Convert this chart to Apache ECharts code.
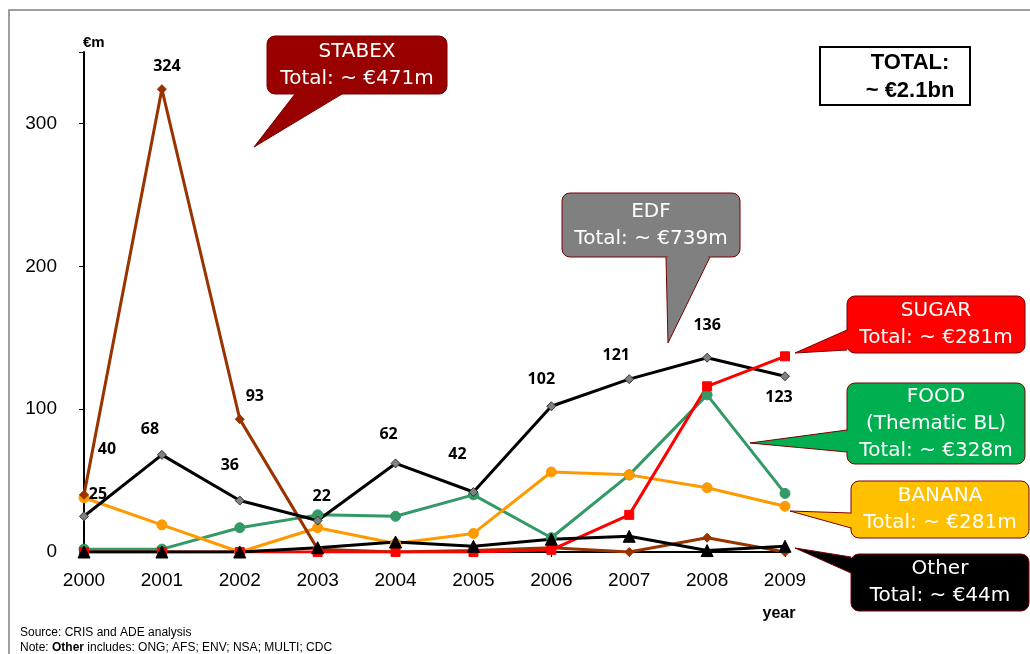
<!DOCTYPE html>
<html>
<head>
<meta charset="utf-8">
<script src="https://cdn.jsdelivr.net/npm/echarts@6/dist/echarts.min.js"></script>
<style>
html,body{margin:0;padding:0;background:#fff;}
#chart{width:1030px;height:654px;}
</style>
</head>
<body>
<div id="chart"></div>
<script>
// ---- data ----
const years = ['2000','2001','2002','2003','2004','2005','2006','2007','2008','2009'];
const yTicks = [0, 100, 200, 300];
const edf    = [25, 68, 36, 22, 62, 42, 102, 121, 136, 123];
const stabex = [40, 324, 93, 2, 0, 1, 3, 0, 10, 0];
const sugar  = [0, 0, 0, 0, 0, 0, 1.5, 26, 116, 137];
const food   = [2, 2, 17, 26, 25, 40, 10, 54, 110, 41];
const banana = [38, 19, 0, 17, 6, 13, 56, 54, 45, 32];
const other  = [0, 0, 0, 3, 7, 4, 9, 11, 1, 4];
const stabexLabelled = [0, 1, 2]; // indexes with a value label

// ---- label placement (styling only) ----
const edfLabelOffsets = [[14,-22],[-12,-25],[-10,-35],[4,-24],[-7,-29],[-16,-38],[-10,-27],[-13,-24],[0,-32],[-6,21]];
const stabexLabelOffsets = [[23,-45],[5,-23],[15,-23]];

const labelFont = {fontFamily:'Open Sans', fontWeight:'bold', fontSize:16, color:'#000'};

const edfData = edf.map((v,i)=>({value:v, label:Object.assign({show:true, position:'inside', offset:edfLabelOffsets[i]}, labelFont)}));
const stabexData = stabex.map((v,i)=>{
  const k = stabexLabelled.indexOf(i);
  if (k < 0) return v;
  return {value:v, label:Object.assign({show:true, position:'inside', offset:stabexLabelOffsets[k]}, labelFont)};
});

function lineSeries(name, data, color, symbol, size, extra){
  return Object.assign({
    name, type:'line', data, symbol, symbolSize:size,
    lineStyle:{color, width:3},
    itemStyle:{color, borderColor:color, borderWidth:1},
    emphasis:{disabled:true}, animation:false
  }, extra||{});
}

// ---- callouts (annotations) ----
function callout(x, y, w, h, fill, text, tip, b1, b2){
  const border = '#7a0000';
  return {
    type:'group', silent:true, z:100,
    children:[
      {type:'rect', shape:{x, y, width:w, height:h, r:8}, style:{fill, stroke:border, lineWidth:1}, z:100},
      {type:'polygon', shape:{points:[b1, tip, b2, [ (b1[0]+b2[0])/2 + (b1[0]===b2[0]? (b1[0]>tip[0]?6:-6):0), (b1[1]+b2[1])/2 + (b1[1]===b2[1]? (b1[1]>tip[1]?6:-6):0)]]}, style:{fill, stroke:null}, z:101},
      {type:'polyline', shape:{points:[b1, tip, b2]}, style:{stroke:border, lineWidth:1, fill:null}, z:102},
      {type:'text', x:x+w/2, y:y+h/2, z:103,
        style:{text, fill:'#fff', font:'20px "DejaVu Sans"', textAlign:'center', textVerticalAlign:'middle', lineHeight: 27}}
    ]
  };
}

const chart = echarts.init(document.getElementById('chart'), null, {renderer:'canvas'});
chart.setOption({
  backgroundColor:'#fff',
  animation:false,
  grid:{left:84, right:245, top:52, bottom:102, containLabel:false},
  xAxis:{
    type:'category', data:years, boundaryGap:false,
    axisLine:{lineStyle:{color:'#000', width:2}},
    axisTick:{show:true, alignWithLabel:true, length:5, lineStyle:{color:'#000', width:1}},
    axisLabel:{fontFamily:'Liberation Sans', fontSize:19, color:'#000', margin:19}
  },
  yAxis:{
    type:'value', min:0, max:350, interval:100,
    axisLine:{show:true, lineStyle:{color:'#000', width:2}},
    axisTick:{show:true, length:5, lineStyle:{color:'#000', width:1}},
    splitLine:{show:false},
    axisLabel:{fontFamily:'Liberation Sans', fontSize:19, color:'#000', margin:27,
      formatter:v=> yTicks.indexOf(v)>=0 ? String(v) : ''}
  },
  series:[
    lineSeries('FOOD', food, '#339966', 'circle', 10),
    lineSeries('BANANA', banana, '#FF9900', 'circle', 10),
    lineSeries('STABEX', stabexData, '#993300', 'diamond', 9),
    lineSeries('EDF', edfData, '#000000', 'diamond', 9, {itemStyle:{color:'#808080', borderColor:'#333', borderWidth:1}}),
    lineSeries('SUGAR', sugar, '#FF0000', 'rect', 9),
    lineSeries('Other', other, '#000000', 'triangle', 12)
  ],
  graphic:[
    // frame
    {type:'polyline', silent:true, shape:{points:[[9,660],[9,10],[1040,10]]}, style:{stroke:'#808080', lineWidth:1.5, fill:null}},
    // axis names
    {type:'text', x:83, y:43, style:{text:'€m', font:'bold 15px "Liberation Sans"', fill:'#000', textVerticalAlign:'middle'}},
    {type:'text', x:779, y:614, style:{text:'year', font:'bold 16px "Liberation Sans"', fill:'#000', textAlign:'center', textVerticalAlign:'middle'}},
    // total box
    {type:'rect', shape:{x:820, y:47, width:150, height:58}, style:{fill:'#fff', stroke:'#000', lineWidth:2}},
    {type:'text', x:910, y:77, style:{text:'TOTAL:\n~ €2.1bn', font:'bold 22px "Liberation Sans"', fill:'#000', textAlign:'center', textVerticalAlign:'middle', lineHeight:28}},
    // callouts
    callout(267, 36, 180, 58, '#990000', 'STABEX\nTotal: ~ €471m', [254,147], [295,94], [342,94]),
    callout(562, 193, 178, 64, '#808080', 'EDF\nTotal: ~ €739m', [668,343], [666,257], [710,257]),
    callout(847, 296, 178, 57, '#FF0000', 'SUGAR\nTotal: ~ €281m', [795,353], [847,330], [847,350]),
    callout(847, 383, 178, 81, '#00B050', 'FOOD\n(Thematic BL)\nTotal: ~ €328m', [750,443], [847,430], [847,452]),
    callout(851, 481, 178, 57, '#FFC000', 'BANANA\nTotal: ~ €281m', [790,511], [851,513], [851,528]),
    callout(851, 554, 178, 57, '#000000', 'Other\nTotal: ~ €44m', [795,548], [851,557], [851,573]),
    // source / note
    {type:'text', x:20, y:633, style:{text:'Source: CRIS and ADE analysis', font:'12px "Liberation Sans"', fill:'#000', textVerticalAlign:'middle'}},
    {type:'text', x:20, y:648, style:{
      text:'{n|Note: }{b|Other}{n| includes: ONG; AFS; ENV; NSA; MULTI; CDC}',
      textVerticalAlign:'middle',
      rich:{n:{font:'12px "Liberation Sans"', fill:'#000'}, b:{font:'bold 12px "Liberation Sans"', fill:'#000'}}
    }}
  ]
});
</script>
</body>
</html>
